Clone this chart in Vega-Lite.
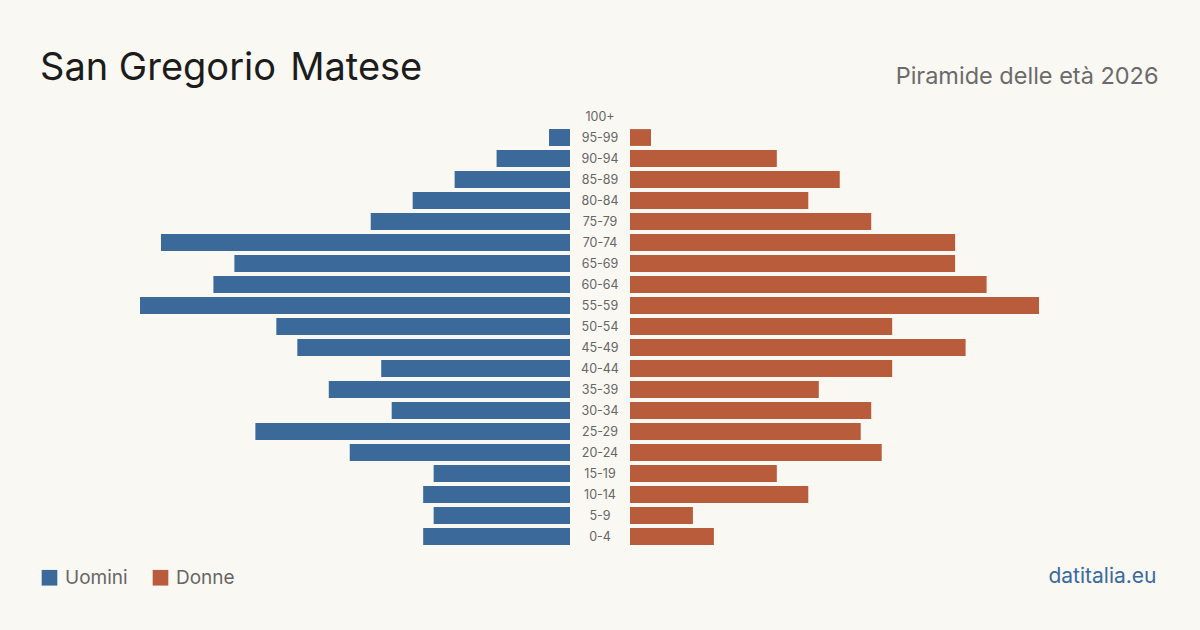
{
  "$schema": "https://vega.github.io/schema/vega-lite/v6.json",
  "width": 1120,
  "height": 441,
  "autosize": {"type": "none"},
  "padding": {"left": 40, "right": 40, "top": 106, "bottom": 83},
  "background": "#faf8f3",
  "title": {
    "text": "San Gregorio \u200aMatese",
    "anchor": "start",
    "frame": "group",
    "baseline": "alphabetic",
    "font": "Inter",
    "fontSize": 38,
    "fontWeight": "normal",
    "color": "#1c1c1c",
    "offset": -53
  },
  "data": {
    "values": [
      {"age": "100+", "m": 0, "f": 0},
      {"age": "95-99", "m": 2, "f": 2},
      {"age": "90-94", "m": 7, "f": 14},
      {"age": "85-89", "m": 11, "f": 20},
      {"age": "80-84", "m": 15, "f": 17},
      {"age": "75-79", "m": 19, "f": 23},
      {"age": "70-74", "m": 39, "f": 31},
      {"age": "65-69", "m": 32, "f": 31},
      {"age": "60-64", "m": 34, "f": 34},
      {"age": "55-59", "m": 41, "f": 39},
      {"age": "50-54", "m": 28, "f": 25},
      {"age": "45-49", "m": 26, "f": 32},
      {"age": "40-44", "m": 18, "f": 25},
      {"age": "35-39", "m": 23, "f": 18},
      {"age": "30-34", "m": 17, "f": 23},
      {"age": "25-29", "m": 30, "f": 22},
      {"age": "20-24", "m": 21, "f": 24},
      {"age": "15-19", "m": 13, "f": 14},
      {"age": "10-14", "m": 14, "f": 17},
      {"age": "5-9", "m": 13, "f": 6},
      {"age": "0-4", "m": 14, "f": 8}
    ]
  },
  "encoding": {
    "y": {
      "field": "age",
      "type": "nominal",
      "sort": null,
      "scale": {"paddingInner": 0.2, "paddingOuter": 0.1},
      "axis": null
    }
  },
  "layer": [
    {
      "mark": {"type": "bar"},
      "encoding": {
        "x": {
          "field": "m",
          "type": "quantitative",
          "scale": {"domain": [-56.256, 50.535], "reverse": true, "zero": false, "nice": false},
          "axis": {
            "orient": "top",
            "domain": false,
            "ticks": false,
            "labels": false,
            "grid": false,
            "title": "Piramide delle età 2026",
            "titleX": 1118,
            "titleY": -22.3,
            "titleAlign": "right",
            "titleAnchor": null,
            "titleAngle": 0,
            "titleBaseline": "alphabetic",
            "titleFont": "Inter",
            "titleFontSize": 23.5,
            "titleFontWeight": "normal",
            "titleColor": "#6b6b6b"
          }
        },
        "color": {
          "datum": "Uomini",
          "type": "nominal",
          "scale": {"domain": ["Uomini", "Donne"], "range": ["#3b6a9a", "#b95c3c"]},
          "legend": {
            "orient": "none",
            "legendX": 0,
            "legendY": 462,
            "title": null,
            "direction": "horizontal",
            "columns": 2,
            "padding": 0,
            "symbolType": "square",
            "symbolSize": 245,
            "symbolStrokeWidth": 0,
            "symbolOpacity": 1,
            "labelFont": "Inter",
            "labelFontSize": 19,
            "labelColor": "#666666",
            "labelOffset": 6,
            "columnPadding": 23
          }
        }
      }
    },
    {
      "mark": {"type": "bar"},
      "encoding": {
        "x": {
          "field": "f",
          "type": "quantitative",
          "scale": {"domain": [-56.256, 50.535], "zero": false, "nice": false},
          "axis": null
        },
        "color": {"datum": "Donne", "type": "nominal"}
      }
    },
    {
      "mark": {"type": "text", "font": "Inter", "fontSize": 12.5, "color": "#666666", "align": "center", "baseline": "middle"},
      "encoding": {
        "x": {
          "datum": 0,
          "type": "quantitative",
          "scale": {"domain": [-1, 1], "zero": false, "nice": false},
          "axis": {
            "orient": "bottom",
            "domain": false,
            "ticks": false,
            "labels": false,
            "grid": false,
            "title": "datitalia.eu",
            "titleX": 1116,
            "titleY": 35.3,
            "titleAlign": "right",
            "titleAnchor": null,
            "titleAngle": 0,
            "titleBaseline": "alphabetic",
            "titleFont": "Inter",
            "titleFontSize": 21,
            "titleFontWeight": "normal",
            "titleColor": "#3a6a9e"
          }
        },
        "text": {"field": "age"}
      }
    }
  ],
  "resolve": {"scale": {"x": "independent"}},
  "config": {
    "view": {"stroke": null},
    "font": "Inter"
  }
}
